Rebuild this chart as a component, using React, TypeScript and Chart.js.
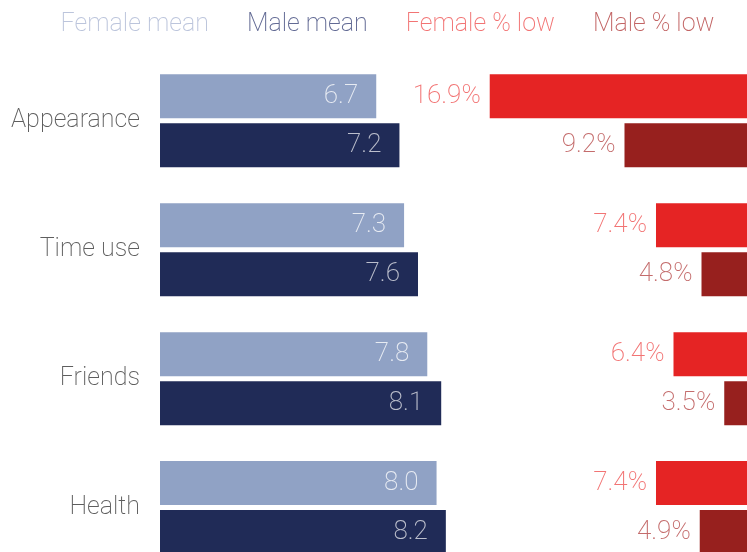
import React, { useEffect, useRef } from 'react';
import { Chart, registerables } from 'chart.js';

Chart.register(...registerables);

const categories = ['Appearance', 'Time use', 'Friends', 'Health'];
const femaleMean = [6.7, 7.3, 7.8, 8.0];
const maleMean = [7.2, 7.6, 8.1, 8.2];
const femaleLow = [16.9, 7.4, 6.4, 7.4];
const maleLow = [9.2, 4.8, 3.5, 4.9];
const seriesLabels = ['Female mean', 'Male mean', 'Female % low', 'Male % low'];

const MEAN_MIN = 2.04;
const MEAN_MAX = 14.69;
const LOW_MIN = 2.2;
const LOW_MAX = 35.74;

const FONT_FAMILY = 'Roboto';
const FONT_WEIGHT = 200;
const VALUE_SIZE = 26;
const TEXT_SIZE = 25;

const legendPlugin = {
  id: 'textLegend',
  afterDraw(chart: any) {
    const ctx = chart.ctx as CanvasRenderingContext2D;
    ctx.save();
    ctx.font = `${FONT_WEIGHT} ${TEXT_SIZE}px ${FONT_FAMILY}`;
    ctx.textAlign = 'left';
    ctx.textBaseline = 'middle';
    const gap = 38;
    const items = chart.data.datasets.map((ds: any) => ({
      text: ds.label as string,
      color: ds.legendColor as string,
      w: ctx.measureText(ds.label).width,
    }));
    const total = items.reduce((s: number, it: any) => s + it.w, 0) + gap * (items.length - 1);
    let x = 387.5 - total / 2;
    for (const it of items) {
      ctx.fillStyle = it.color;
      ctx.fillText(it.text, x, 25);
      x += it.w + gap;
    }
    ctx.restore();
  },
};

const valueLabelPlugin = {
  id: 'valueLabels',
  afterDatasetsDraw(chart: any) {
    const ctx = chart.ctx as CanvasRenderingContext2D;
    ctx.save();
    ctx.font = `${FONT_WEIGHT} ${VALUE_SIZE}px ${FONT_FAMILY}`;
    ctx.textAlign = 'right';
    ctx.textBaseline = 'middle';
    chart.data.datasets.forEach((ds: any, i: number) => {
      const meta = chart.getDatasetMeta(i);
      meta.data.forEach((el: any, j: number) => {
        const v = ds.data[j] as number;
        const isMean = ds.xAxisID === 'xL';
        const txt = isMean ? v.toFixed(1) : v.toFixed(1) + '%';
        const x = isMean ? el.x - 18 : el.x - 9;
        ctx.fillStyle = ds.valueColor;
        ctx.fillText(txt, x, el.y);
      });
    });
    ctx.restore();
  },
};

export default function App() {
  const ref = useRef<HTMLCanvasElement>(null);

  useEffect(() => {
    if (!ref.current) return;
    const chart = new Chart(ref.current, {
      type: 'bar',
      data: {
        labels: categories,
        datasets: [
          {
            label: seriesLabels[0],
            data: femaleMean,
            xAxisID: 'xL',
            stack: 'female',
            base: MEAN_MIN,
            backgroundColor: '#90a2c5',
            legendColor: '#bcc5dc',
            valueColor: 'rgba(255,255,255,0.78)',
          } as any,
          {
            label: seriesLabels[1],
            data: maleMean,
            xAxisID: 'xL',
            stack: 'male',
            base: MEAN_MIN,
            backgroundColor: '#202b57',
            legendColor: '#626a94',
            valueColor: 'rgba(255,255,255,0.7)',
          } as any,
          {
            label: seriesLabels[2],
            data: femaleLow,
            xAxisID: 'xR',
            stack: 'female',
            base: LOW_MIN,
            backgroundColor: '#e52424',
            legendColor: '#f27474',
            valueColor: '#f27474',
          } as any,
          {
            label: seriesLabels[3],
            data: maleLow,
            xAxisID: 'xR',
            stack: 'male',
            base: LOW_MIN,
            backgroundColor: '#97201e',
            legendColor: '#c26464',
            valueColor: '#c46c6c',
          } as any,
        ],
      },
      options: {
        animation: false,
        responsive: false,
        devicePixelRatio: 1,
        indexAxis: 'y',
        layout: { padding: { top: 56.4, bottom: 28, left: 0, right: 0 } },
        datasets: { bar: { categoryPercentage: 0.76, barPercentage: 0.898 } },
        plugins: {
          legend: { display: false },
          tooltip: { enabled: false },
        },
        scales: {
          y: {
            type: 'category',
            grid: { display: false, drawTicks: false },
            border: { display: false },
            ticks: {
              color: '#5e5e5e',
              padding: 20,
              font: { family: FONT_FAMILY, size: TEXT_SIZE, weight: FONT_WEIGHT as any },
            },
            afterFit: (s: any) => {
              s.width = 160;
              s.paddingTop = 0;
              s.paddingBottom = 0;
            },
          },
          xL: { type: 'linear', position: 'bottom', min: MEAN_MIN, max: MEAN_MAX, display: false },
          xR: { type: 'linear', position: 'bottom', reverse: true, min: LOW_MIN, max: LOW_MAX, display: false },
        },
      } as any,
      plugins: [valueLabelPlugin, legendPlugin],
    });
    return () => chart.destroy();
  }, []);

  return (
    <div style={{ position: 'fixed', left: 0, top: 0, width: 747, height: 600, overflow: 'hidden', background: '#fff' }}>
      <canvas ref={ref} width={747} height={600} style={{ display: 'block' }} />
    </div>
  );
}
